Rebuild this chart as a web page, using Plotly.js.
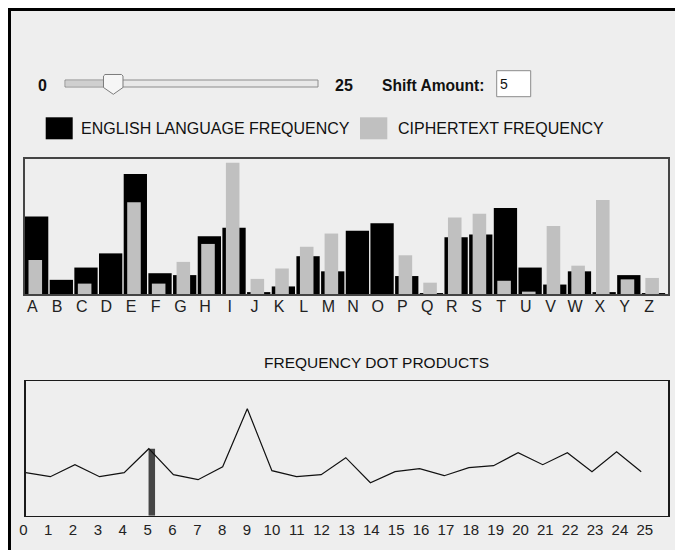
<!DOCTYPE html>
<html>
<head>
<meta charset="utf-8">
<script src="https://cdn.plot.ly/plotly-3.0.1.min.js"></script>
<style>
  html, body { margin: 0; padding: 0; background: #ffffff; }
  #chart { width: 675px; height: 550px; }
</style>
</head>
<body>
<div id="chart"></div>
<script>
// ---- data ----
const letters = ["A","B","C","D","E","F","G","H","I","J","K","L","M","N","O","P","Q","R","S","T","U","V","W","X","Y","Z"];
const englishFreq = [8.2,1.5,2.8,4.3,12.7,2.2,2.0,6.1,7.0,0.2,0.8,4.0,2.4,6.7,7.5,1.9,0.1,6.0,6.3,9.1,2.8,1.0,2.4,0.2,2.0,0.1];
const cipherFreq  = [3.6,0,1.1,0,9.7,1.1,3.4,5.3,13.9,1.6,2.7,5.0,6.4,0,0,4.1,1.2,8.1,8.5,1.4,0.25,7.2,3.0,9.95,1.55,1.7];
const shifts = [0,1,2,3,4,5,6,7,8,9,10,11,12,13,14,15,16,17,18,19,20,21,22,23,24,25];
const dotProducts = [0.043,0.039,0.051,0.039,0.043,0.067,0.041,0.036,0.049,0.107,0.045,0.039,0.041,0.058,0.033,0.044,0.047,0.040,0.048,0.050,0.063,0.051,0.063,0.044,0.064,0.044];
const shiftLabels = shifts.map(String);
const selectedShift = 5;
const sliderMin = "0", sliderMax = "25";

// ---- helpers (pixel -> paper) ----
const W = 675, H = 550;
const px = x => x / W;
const py = y => 1 - y / H;
function pathOf(pts) {
  return pts.map((p, i) => (i ? "L" : "M") + px(p[0]).toFixed(5) + "," + py(p[1]).toFixed(5)).join(" ") + " Z";
}
function rect(x0, y0, x1, y1, fill, line, lw) {
  return {type: "rect", xref: "paper", yref: "paper", x0: px(x0), x1: px(x1), y0: py(y1), y1: py(y0),
          fillcolor: fill, line: {color: line || fill, width: lw === undefined ? 0 : lw}, layer: "below"};
}
const REG = "Liberation Sans, Arial, Helvetica, sans-serif";

const traces = [
  {type: "bar", x: letters, y: englishFreq, name: "ENGLISH LANGUAGE FREQUENCY",
   marker: {color: "#000000", line: {width: 0}}, width: 0.944, offset: -0.5,
   xaxis: "x", yaxis: "y", hoverinfo: "skip"},
  {type: "bar", x: letters, y: cipherFreq, name: "CIPHERTEXT FREQUENCY",
   marker: {color: "#c0c0c0", line: {width: 0}}, width: 0.55, offset: -0.358,
   xaxis: "x", yaxis: "y", hoverinfo: "skip"},
  {type: "bar", x: [selectedShift], y: [dotProducts[selectedShift]], name: "selected shift",
   marker: {color: "#454545", line: {width: 0}}, width: 0.264, offset: -0.01,
   xaxis: "x2", yaxis: "y2", hoverinfo: "skip"},
  {type: "scatter", mode: "lines", x: shifts, y: dotProducts, name: "FREQUENCY DOT PRODUCTS",
   line: {color: "#111111", width: 1.2}, xaxis: "x2", yaxis: "y2", hoverinfo: "skip"},
  // invisible carrier so the shift-label axis is drawn
  {type: "scatter", mode: "markers", x: shifts, y: dotProducts, name: "labels",
   marker: {opacity: 0, size: 1}, xaxis: "x3", yaxis: "y2", hoverinfo: "skip"}
];

const shapes = [
  rect(8, 8, 680, 560, "#000000"),
  rect(11, 11, 680, 560, "#eeeeee"),
  rect(65, 80, 318, 87, "#e8e8e8", "#8c8c8c", 1),
  rect(66, 81, 104, 86, "#cfcfcf", "#cfcfcf", 0),
  {type: "path", xref: "paper", yref: "paper", layer: "above",
   path: pathOf([[103.5,76],[105,74.5],[121.5,74.5],[123,76],[123,87.5],[113.3,94.3],[103.5,87.5]]),
   fillcolor: "#f6f6f6", line: {color: "#7c7c7c", width: 1}},
  rect(496.7, 70.7, 530.7, 96.7, "#ffffff", "#8a8a8a", 1),
  rect(45.7, 117.3, 72.7, 139.3, "#000000"),
  rect(360, 117.3, 387.3, 139.3, "#c0c0c0")
];

function ann(text, x, y, opts) {
  return Object.assign({text: text, xref: "paper", yref: "paper", x: px(x), y: py(y),
    showarrow: false, xanchor: "left", yanchor: "middle",
    font: {family: REG, size: 16, color: "#111111"}}, opts || {});
}

const annotations = [
  ann("<b>" + sliderMin + "</b>", 42, 85.5, {xanchor: "center", font: {family: REG, size: 16, color: "#111"}}),
  ann("<b>" + sliderMax + "</b>", 344, 85.5, {xanchor: "center", font: {family: REG, size: 16, color: "#111"}}),
  ann("<b>Shift Amount:</b>", 380, 85.5, {font: {family: REG, size: 15.6, color: "#111"}}),
  ann(String(selectedShift), 498.5, 84.5, {font: {family: REG, size: 14, color: "#111"}}),
  ann("ENGLISH LANGUAGE FREQUENCY", 78.5, 128.5, {font: {family: REG, size: 16, color: "#111"}}),
  ann("CIPHERTEXT FREQUENCY", 396, 128.5, {font: {family: REG, size: 16, color: "#111"}}),
  ann("FREQUENCY DOT PRODUCTS", 376.7, 362.3, {xanchor: "center", font: {family: REG, size: 15.5, color: "#111"}})
];

const layout = {
  width: W, height: H,
  margin: {l: 0, r: 0, t: 0, b: 0, pad: 0},
  paper_bgcolor: "#ffffff",
  plot_bgcolor: "rgba(0,0,0,0)",
  showlegend: false,
  barmode: "overlay",
  xaxis: {domain: [px(25), px(668)], anchor: "y", type: "category", range: [-0.5, 25.56],
          showgrid: false, zeroline: false, showline: true, mirror: true, linecolor: "#444444", linewidth: 2,
          ticks: "", tickfont: {family: REG, size: 16, color: "#222222"}, ticklabelshift: -5,
          ticklabelstandoff: -3, fixedrange: true},
  yaxis: {domain: [py(294), py(159)], anchor: "x", range: [0, 14.29],
          showgrid: false, zeroline: false, showline: true, mirror: true, linecolor: "#444444", linewidth: 2,
          showticklabels: false, ticks: "", fixedrange: true},
  xaxis2: {domain: [px(25.7), px(668.3)], anchor: "y2", range: [0, 26.1],
           showgrid: false, zeroline: false, showline: true, mirror: true, linecolor: "#1a1a1a", linewidth: 1.5,
           showticklabels: false, ticks: "", fixedrange: true},
  yaxis2: {domain: [py(515.7), py(381)], anchor: "x2", range: [0, 0.1347],
           showgrid: false, zeroline: false, showline: true, mirror: true, linecolor: "#1a1a1a", linewidth: 1.5,
           showticklabels: false, ticks: "", fixedrange: true},
  xaxis3: {domain: [px(15), px(668.3)], anchor: "y2", range: [-0.334, 25.946],
           tickmode: "array", tickvals: shifts, ticktext: shiftLabels,
           showgrid: false, zeroline: false, showline: false, ticks: "",
           ticklabelstandoff: 3,
           tickfont: {family: REG, size: 15, color: "#222222"}, fixedrange: true},
  shapes: shapes,
  annotations: annotations
};

Plotly.newPlot("chart", traces, layout, {staticPlot: true, displayModeBar: false});
</script>
</body>
</html>
